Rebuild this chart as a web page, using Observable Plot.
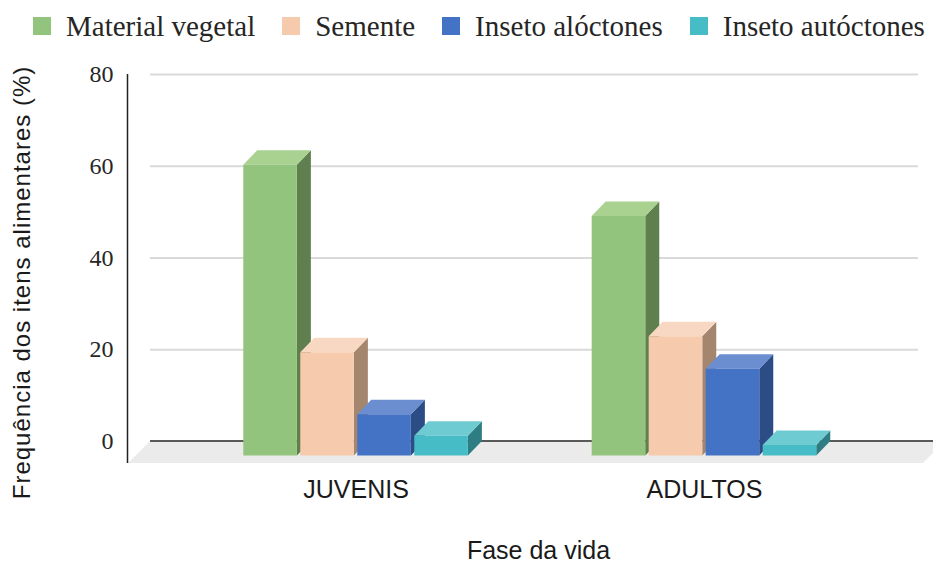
<!DOCTYPE html>
<html><head><meta charset="utf-8">
<script src="https://cdn.jsdelivr.net/npm/d3@7"></script>
<script src="https://cdn.jsdelivr.net/npm/@observablehq/plot@0.6"></script>
<style>
body{margin:0;background:#fff;}
#legend{height:50px;box-sizing:border-box;padding-top:2px;padding-left:33px;display:flex;align-items:center;font-family:"Liberation Serif",serif;font-size:29px;color:#262626;white-space:nowrap;}
.item{display:flex;align-items:center;margin-right:27px;}
.sw{width:18px;height:18px;margin-right:15px;flex:none;}
#chart svg{display:block;}
</style></head><body>
<div id="legend"></div>
<div id="chart"></div>
<script>
// ---- data ----
const groups = ["JUVENIS", "ADULTOS"];
const series = ["Material vegetal", "Semente", "Inseto alóctones", "Inseto autóctones"];
const juvenis = [63.4, 22.5, 9.0, 4.3];
const adultos = [52.2, 26.0, 18.9, 2.3];
const yTicks = [0, 20, 40, 60, 80];
const gridTicks = [20, 40, 60, 80];

// ---- styles ----
const frontColors = ["#93c47d", "#f6caac", "#4472c4", "#46bdc6"];
const topColors   = ["#a9d290", "#f8d8c2", "#6a8ed0", "#6ecbd1"];
const sideColors  = ["#5f7f4e", "#a4866f", "#2c4c86", "#2e7d82"];
const DX = 14, DY = 14.5, FLOOR = 22;

const rows = [];
groups.forEach((g, gi) => series.forEach((s, si) => rows.push({group: g, series: s, si, value: (gi === 0 ? juvenis : adultos)[si]})));

// legend
const legend = document.getElementById("legend");
series.forEach((s, i) => {
  const it = document.createElement("div"); it.className = "item";
  const sw = document.createElement("div"); sw.className = "sw"; sw.style.background = frontColors[i];
  const tx = document.createElement("span"); tx.textContent = s;
  it.appendChild(sw); it.appendChild(tx); legend.appendChild(it);
});

function floorMark(index, scales, values, dim) {
  const y = scales.y;
  const y0 = y(0);
  const l = dim.marginLeft, r = dim.width + 12;
  const g = d3.create("svg:g");
  g.append("path")
    .attr("d", `M${l},${y0}L${r},${y0}L${r - FLOOR},${y0 + FLOOR}L${l - FLOOR},${y0 + FLOOR}Z`)
    .attr("fill", "#ebebeb");
  g.append("line")
    .attr("x1", l).attr("x2", dim.width)
    .attr("y1", y0).attr("y2", y0)
    .attr("stroke", "#595959").attr("stroke-width", 2);
  g.append("line")
    .attr("x1", l - FLOOR - 0.5).attr("x2", l - FLOOR - 0.5)
    .attr("y1", y(yTicks[yTicks.length - 1])).attr("y2", y0 + FLOOR)
    .attr("stroke", "#222").attr("stroke-width", 1.5);
  return g.node();
}

function barsMark(index, scales) {
  const {x, y} = scales;
  const sub = d3.scaleBand().domain(series).range([0, x.bandwidth()]).paddingInner(0.06).paddingOuter(0.03);
  const w = sub.bandwidth();
  const g = d3.create("svg:g");
  const yb = y(0);
  for (const d of rows) {
    const x0 = x(d.group) + sub(d.series), x1 = x0 + w, yt = y(d.value);
    g.append("path").attr("fill", sideColors[d.si])
      .attr("d", `M${x1 - DX},${yt + DY}L${x1},${yt}L${x1},${yb}L${x1 - DX},${yb + DY}Z`);
    g.append("path").attr("fill", topColors[d.si])
      .attr("d", `M${x0 - DX},${yt + DY}L${x1 - DX},${yt + DY}L${x1},${yt}L${x0},${yt}Z`);
    g.append("path").attr("fill", frontColors[d.si])
      .attr("d", `M${x0 - DX},${yt + DY}L${x1 - DX},${yt + DY}L${x1 - DX},${yb + DY}L${x0 - DX},${yb + DY}Z`);
  }
  return g.node();
}

const chart = Plot.plot({
  width: 933,
  height: 515,
  marginLeft: 150,
  marginRight: 15,
  marginTop: 24,
  marginBottom: 124,
  x: {type: "band", domain: groups, paddingInner: 0.3456, paddingOuter: 0.275, align: 0.551, round: false, axis: null},
  y: {domain: [0, 80], axis: null},
  marks: [
    Plot.gridY(gridTicks, {stroke: "#d9d9d9", strokeOpacity: 1, strokeWidth: 2}),
    floorMark,
    barsMark,
    Plot.axisY(yTicks, {tickSize: 0, tickPadding: 37, fontSize: 24, fontFamily: "Liberation Serif", color: "#262626", label: null}),
    Plot.text(groups, {x: d => d, frameAnchor: "bottom", dy: 56, dx: -DX, fontSize: 25, fontFamily: "Liberation Sans", fill: "#1a1a1a"}),
    Plot.text(["Frequência dos itens alimentares (%)"], {frameAnchor: "left", textAnchor: "middle", rotate: -90, dx: -128, dy: 24.5, fontSize: 24, fontFamily: "Liberation Sans", fill: "#1a1a1a"}),
    Plot.text(["Fase da vida"], {frameAnchor: "bottom", textAnchor: "middle", dy: 117, dx: 4, fontSize: 25, fontFamily: "Liberation Sans", fill: "#1a1a1a"})
  ]
});
chart.querySelectorAll("text").forEach(t => {
  if (t.textContent.startsWith("Frequência")) t.setAttribute("letter-spacing", "1");
});
document.getElementById("chart").appendChild(chart);
</script>
</body></html>
